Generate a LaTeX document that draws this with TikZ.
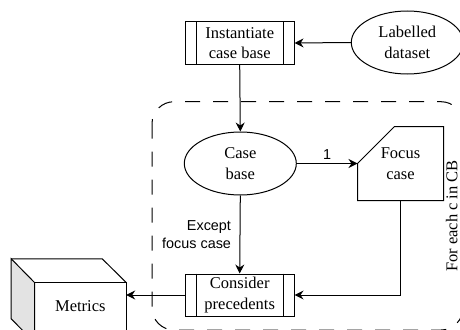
\documentclass[tikz,border=0pt]{standalone}
\usepackage{fontspec}
\setmainfont{Liberation Serif}
\newfontfamily\lsans{Liberation Sans}
\usetikzlibrary{shapes.geometric,arrows.meta,calc}
\definecolor{sidegrey}{HTML}{E3E3E3}
\tikzset{
  every picture/.style={line width=1pt},
  txt/.style={font=\fontsize{16.5}{20.7}\selectfont, align=center, inner sep=0pt},
  procbox/.style={txt, draw, rectangle, minimum width=108.7pt, minimum height=42pt},
  store/.style={txt, draw, ellipse, minimum width=112pt, minimum height=63pt},
  flow/.style={draw, -{Stealth[length=9pt,width=9pt,inset=3pt]}},
  edgelabel/.style={font=\lsans\fontsize{14.4}{18}\selectfont, inner sep=0pt, align=right},
  loopframe/.style={draw, dash pattern=on 15pt off 13pt, rounded corners=22pt},
}
\newcommand{\sidebars}[1]{%
  \draw ([xshift=11.4pt]#1.north west) -- ([xshift=11.4pt]#1.south west);
  \draw ([xshift=-11.4pt]#1.north east) -- ([xshift=-11.4pt]#1.south east);}
\begin{document}
\begin{tikzpicture}[x=1pt, y=-1pt]
\useasboundingbox (0,0) rectangle (460,329);

% iteration frame
\draw[loopframe] (152,101.7) rectangle (463,330);
\node[txt, rotate=90] (loop) at (451.7,216) {For each c in CB};

% processes and stores
\node[procbox] (inst) at (239.7,43) {Instantiate\\case base};
\sidebars{inst}
\node[store] (data) at (407.3,42.5) {Labelled\\dataset};
\node[store] (cb) at (240.3,163.5) {Case\\base};
\node[procbox] (cons) at (239.7,295) {Consider\\precedents};
\sidebars{cons}

% focus case (card shape)
\node[txt, minimum width=85pt, minimum height=73pt] (focus) at (400.5,163.5) {Focus\\case};
\draw (focus.west) -- ([xshift=37pt]focus.north west) -- (focus.north east)
  -- (focus.south east) -- (focus.south west) -- cycle;

% metrics cube
\node[txt, minimum width=90.7pt, minimum height=46pt] (metrics) at (80.35,306) {Metrics};
\coordinate (mfb) at ([yshift=-13pt]metrics.south west);
\coordinate (mfr) at ([yshift=-13pt]metrics.south east);
\filldraw[fill=sidegrey] ([shift={(-23.3pt,23.7pt)}]metrics.north west) -- (metrics.north west)
  -- (mfb) -- ([shift={(-23.3pt,23.7pt)}]mfb) -- cycle;
\draw ([shift={(-23.3pt,23.7pt)}]metrics.north west) -- ([shift={(-24pt,23.7pt)}]metrics.north east)
  -- (metrics.north east);
\draw (metrics.north west) -- (metrics.north east) -- (mfr) -- (mfb) -- cycle;

% connectors
\draw[flow] (data.west) -- (inst.east);
\draw[flow] (inst.south) -- (cb.north);
\draw[flow] (cb.east) -- node[edgelabel, above=4pt] (one) {1} (focus.west);
\draw[flow] (cb.south) -- (cons.north);
\node[edgelabel, anchor=east] (except) at (231.5,235) {Except\\focus case};
\draw[flow] (focus.south) |- (cons.east);
\draw[flow] (cons.west) -- (cons.west -| metrics.east);
\end{tikzpicture}
\end{document}
